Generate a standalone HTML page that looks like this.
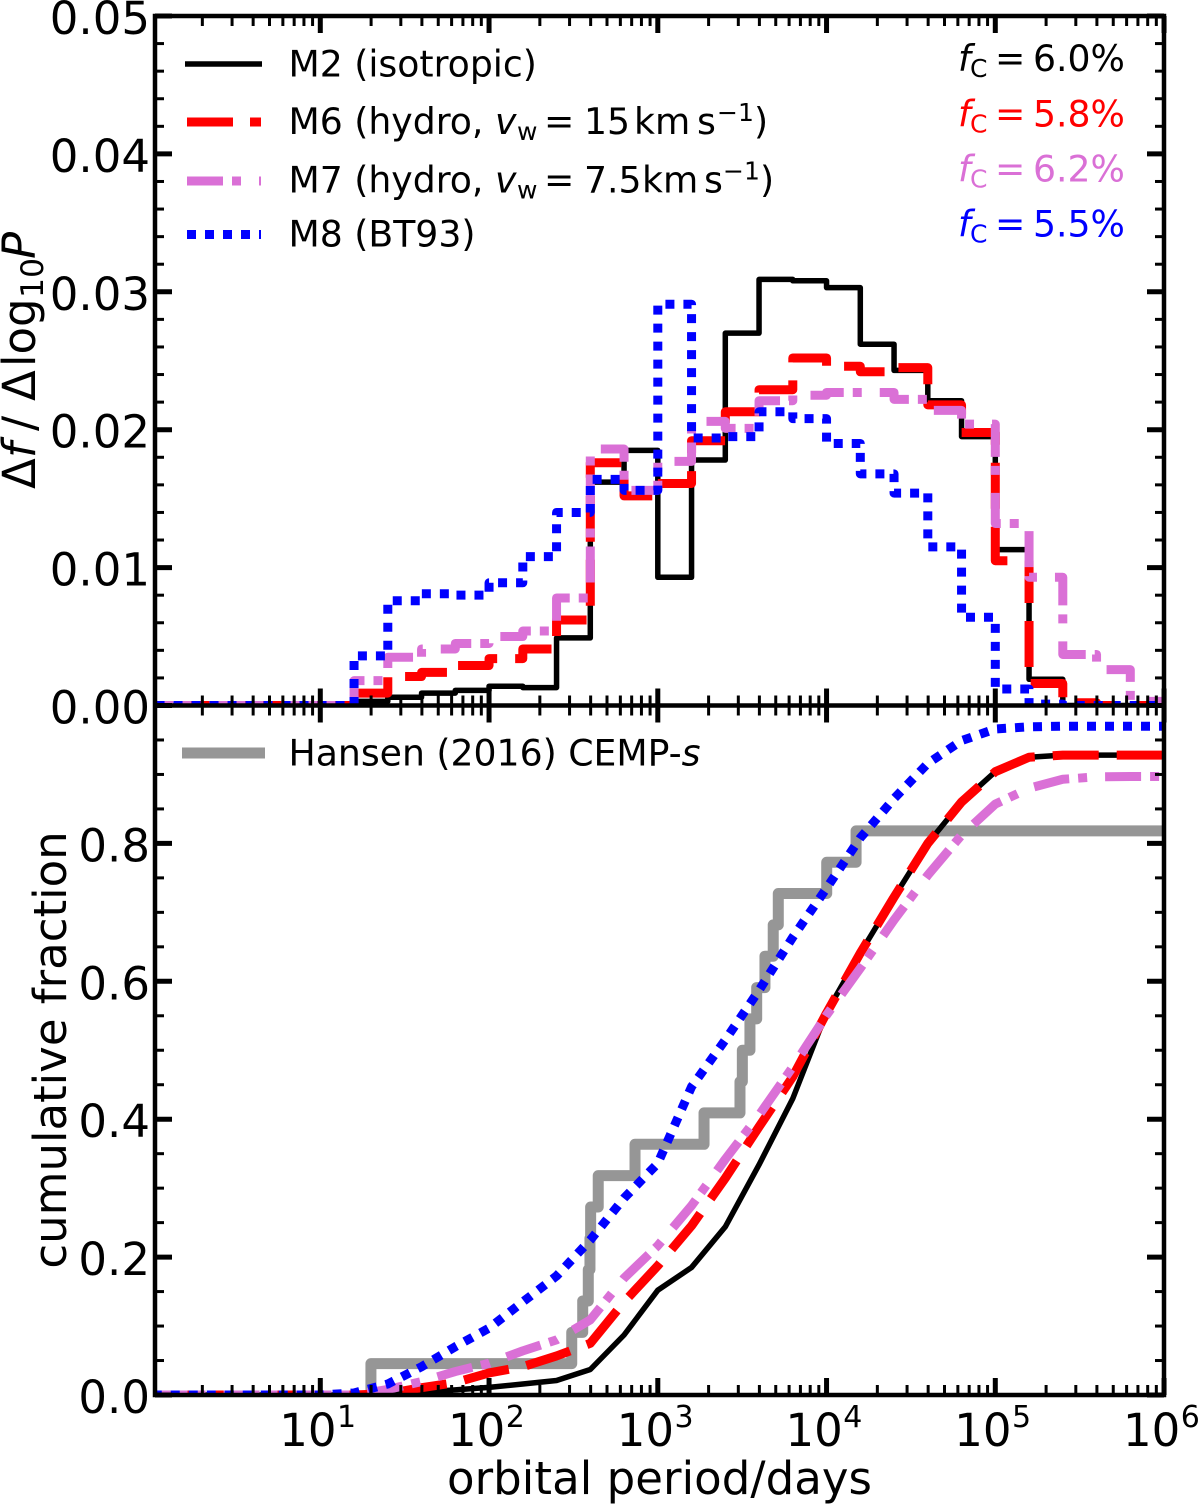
<!DOCTYPE html>
<html lang="en">
<head>
<meta charset="utf-8">
<title>Orbital period distributions</title>
<style>
html,body{margin:0;padding:0;background:#fff;}
svg{display:block;font-family:"DejaVu Sans","Liberation Sans",sans-serif;}
</style>
</head>
<body>
<svg id="chart" xmlns="http://www.w3.org/2000/svg" width="1200" height="1504" viewBox="0 0 1200 1504">
  <defs>
    <clipPath id="clip-top"><rect x="155" y="16" width="1009" height="690"/></clipPath>
    <clipPath id="clip-bottom"><rect x="155" y="706" width="1009" height="689"/></clipPath>
  </defs>
  <rect x="0" y="0" width="1200" height="1504" fill="#fff"/>
  <g id="top-series" clip-path="url(#clip-top)"></g>
  <g id="bottom-series" clip-path="url(#clip-bottom)"></g>
  <g id="axes"></g>
  <g id="tick-labels" font-size="45" fill="#000"></g>

  <text x="447" y="1494" font-size="45" textLength="425" lengthAdjust="spacing">orbital period/days</text>
  <text transform="translate(66,1050) rotate(-90)" text-anchor="middle" font-size="45">cumulative fraction</text>
  <text transform="translate(35,0) rotate(-90)" font-size="45"><tspan x="-489">Δ</tspan><tspan x="-458" font-style="italic">f</tspan><tspan x="-431">/</tspan><tspan x="-401">Δ</tspan><tspan x="-367">log</tspan><tspan x="-298" dy="8" font-size="31.5">10</tspan><tspan x="-259" dy="-8" font-style="italic">P</tspan></text>

  <g font-size="36.2">
    <g>
      <line x1="185" x2="262" y1="64" y2="64" stroke="#000" stroke-width="5.5"/>
      <text x="288.5" y="76.5">M2 (isotropic)</text>
    </g>
    <g>
      <line x1="187" x2="261" y1="122" y2="122" stroke="#f00" stroke-width="9" stroke-dasharray="46 17"/>
      <text x="288.5" y="134">M6 (hydro,<tspan x="495" font-style="italic">v</tspan><tspan x="517" dy="6" font-size="25">w</tspan><tspan x="544" dy="-6">=</tspan><tspan x="584">15</tspan><tspan x="634">km</tspan><tspan x="697">s</tspan><tspan x="717" dy="-13" font-size="25">−1</tspan><tspan x="754" dy="13">)</tspan></text>
    </g>
    <g>
      <line x1="187" x2="261" y1="181" y2="181" stroke="#da70d6" stroke-width="9" stroke-dasharray="36 9 9 18"/>
      <text x="288.5" y="192.5">M7 (hydro,<tspan x="495" font-style="italic">v</tspan><tspan x="517" dy="6" font-size="25">w</tspan><tspan x="544" dy="-6">=</tspan><tspan x="584">7.5</tspan><tspan x="642">km</tspan><tspan x="704">s</tspan><tspan x="723" dy="-13" font-size="25">−1</tspan><tspan x="760" dy="13">)</tspan></text>
    </g>
    <g>
      <line x1="187" x2="261" y1="234.5" y2="234.5" stroke="#00f" stroke-width="9" stroke-dasharray="9 9"/>
      <text x="288.5" y="246.5">M8 (BT93)</text>
    </g>
  </g>

  <g font-size="36.2">
    <text y="71" fill="#000"><tspan x="958" font-style="italic">f</tspan><tspan x="970" dy="6" font-size="25">C</tspan><tspan x="995" dy="-6">=</tspan><tspan x="1033">6.0%</tspan></text>
    <text y="126.5" fill="#f00"><tspan x="958" font-style="italic">f</tspan><tspan x="970" dy="6" font-size="25">C</tspan><tspan x="995" dy="-6">=</tspan><tspan x="1033">5.8%</tspan></text>
    <text y="181.5" fill="#da70d6"><tspan x="958" font-style="italic">f</tspan><tspan x="970" dy="6" font-size="25">C</tspan><tspan x="995" dy="-6">=</tspan><tspan x="1033">6.2%</tspan></text>
    <text y="236.5" fill="#00f"><tspan x="958" font-style="italic">f</tspan><tspan x="970" dy="6" font-size="25">C</tspan><tspan x="995" dy="-6">=</tspan><tspan x="1033">5.5%</tspan></text>
  </g>

  <g font-size="36.2">
    <line x1="182" x2="265" y1="753" y2="753" stroke="#969696" stroke-width="11"/>
    <text x="288.5" y="765.5">Hansen (2016) CEMP-<tspan font-style="italic">s</tspan></text>
  </g>
</svg>
<script>
// ---- data: log10(orbital period / days) ----
const binEdgesLogP = [0.0,0.2,0.4,0.6,0.8,1.0,1.2,1.4,1.6,1.8,2.0,2.2,2.4,2.6,2.8,3.0,3.2,3.4,3.6,3.8,4.0,4.2,4.4,4.6,4.8,5.0,5.2,5.4,5.6,5.8,6.0];

// histogram values per bin (30 bins)
const histM2 = [0,0,0,0,0,0,0.0003,0.0006,0.0009,0.0011,0.0014,0.0013,0.0049,0.0162,0.0185,0.0093,0.0178,0.0270,0.0309,0.0308,0.0303,0.0262,0.0243,0.0221,0.0195,0.0113,0.0019,0,0,0];
const histM6 = [0,0,0,0,0,0,0.0009,0.0021,0.0024,0.0029,0.0034,0.0041,0.0062,0.0176,0.0152,0.0161,0.0192,0.0213,0.0229,0.0252,0.0246,0.0242,0.0245,0.0218,0.0198,0.0105,0.0016,0.0002,0,0];
const histM7 = [0,0,0,0,0,0,0.0018,0.0035,0.0041,0.0045,0.0050,0.0054,0.0078,0.0186,0.0156,0.0177,0.0206,0.0201,0.0221,0.0225,0.0227,0.0227,0.0222,0.0214,0.0204,0.0132,0.0093,0.0037,0.0026,0.0003];
const histM8 = [0,0,0,0,0,0,0.0036,0.0076,0.0081,0.0080,0.0089,0.0108,0.0140,0.0164,0.0156,0.0291,0.0194,0.0195,0.0213,0.0208,0.0190,0.0168,0.0154,0.0115,0.0064,0.0012,0.0001,0,0,0];

// cumulative fraction at each bin edge (31 values)
const cumM2 = [0,0,0,0,0,0,0,0.001,0.004,0.0075,0.011,0.016,0.021,0.037,0.087,0.152,0.185,0.244,0.334,0.43,0.555,0.641,0.722,0.80,0.86,0.904,0.925,0.928,0.928,0.928,0.928];
const cumM6 = [0,0,0,0,0,0,0,0.002,0.0106,0.018,0.032,0.041,0.0566,0.075,0.135,0.1875,0.2455,0.3145,0.389,0.4617,0.554,0.641,0.722,0.80,0.86,0.904,0.925,0.928,0.928,0.928,0.928];
const cumM7 = [0,0,0,0,0,0,0,0.008,0.0195,0.034,0.046,0.064,0.08,0.109,0.1695,0.2166,0.2746,0.342,0.406,0.476,0.551,0.619,0.689,0.754,0.812,0.857,0.88,0.893,0.8965,0.897,0.897];
const cumM8 = [0,0,0,0,0,0,0.003,0.016,0.041,0.07,0.097,0.135,0.1726,0.2248,0.2855,0.336,0.447,0.515,0.587,0.664,0.735,0.808,0.865,0.916,0.949,0.966,0.969,0.97,0.97,0.97,0.97];

// Hansen (2016) CEMP-s observed step distribution
const hansenLogP = [1.300,2.490,2.555,2.588,2.598,2.602,2.647,2.865,3.274,3.487,3.501,3.546,3.586,3.635,3.684,3.714,4.001,4.175];
const hansenCum = [0.0455,0.0909,0.1364,0.1818,0.2273,0.2727,0.3182,0.3636,0.4091,0.4545,0.5,0.5455,0.5909,0.6364,0.6818,0.7273,0.7727,0.8182];

// tick labels
const xTickDecades = [1,2,3,4,5,6];
const xTickExponents = ["1","2","3","4","5","6"];
const topYTicks = [0,0.01,0.02,0.03,0.04,0.05];
const topYTickLabels = ["0.00","0.01","0.02","0.03","0.04","0.05"];
const bottomYTicks = [0,0.2,0.4,0.6,0.8];
const bottomYTickLabels = ["0.0","0.2","0.4","0.6","0.8"];

// ---- axis functions ----
const NS = "http://www.w3.org/2000/svg";
const LEFT = 155, RIGHT = 1164, TOP = 16, MID = 705.5, BOTTOM = 1395;
const xScale = logP => 320.3 + (logP - 1) * 168.75;
const yTop = v => MID - v * (MID - TOP) / 0.05;
const yBottom = v => BOTTOM - v * (BOTTOM - MID);

const topSeries = document.getElementById("top-series");
const bottomSeries = document.getElementById("bottom-series");
const axes = document.getElementById("axes");
const labels = document.getElementById("tick-labels");

function stepPath(edges, values, yf) {
  let d = "M" + xScale(edges[0]).toFixed(2) + " " + yf(values[0]).toFixed(2);
  for (let i = 0; i < values.length; i++) {
    d += "L" + xScale(edges[i]).toFixed(2) + " " + yf(values[i]).toFixed(2);
    d += "L" + xScale(edges[i + 1]).toFixed(2) + " " + yf(values[i]).toFixed(2);
  }
  return d;
}
function linePath(edges, values, yf) {
  return edges.map((e, i) => (i ? "L" : "M") + xScale(e).toFixed(2) + " " + yf(values[i]).toFixed(2)).join("");
}
function addPath(parent, name, d, color, width, dash, offset) {
  const p = document.createElementNS(NS, "path");
  
  
  p.setAttribute("d", d);
  p.setAttribute("fill", "none");
  p.setAttribute("stroke", color);
  p.setAttribute("stroke-width", width);
  p.setAttribute("stroke-linejoin", "round");
  p.setAttribute("stroke-linecap", "butt");
  if (dash) p.setAttribute("stroke-dasharray", dash);
  if (offset) p.setAttribute("stroke-dashoffset", offset);
  parent.appendChild(p);
}
function addTick(x1, y1, x2, y2, w, name) {
  const l = document.createElementNS(NS, "line");
  
  
  l.setAttribute("x1", x1);
  l.setAttribute("y1", y1);
  l.setAttribute("x2", x2);
  l.setAttribute("y2", y2);
  l.setAttribute("stroke", "#000");
  l.setAttribute("stroke-width", w);
  axes.appendChild(l);
}

// ---- series ----
addPath(topSeries, "hist-line-m2", stepPath(binEdgesLogP, histM2, yTop), "#000", 5.5);
addPath(topSeries, "hist-line-m6", stepPath(binEdgesLogP, histM6, yTop), "#f00", 9, "46 18", 37.5);
addPath(topSeries, "hist-line-m7", stepPath(binEdgesLogP, histM7, yTop), "#da70d6", 9, "36 9 9 18", 14.25);
addPath(topSeries, "hist-line-m8", stepPath(binEdgesLogP, histM8, yTop), "#00f", 9, "9 9", 14);

let hansenD = "M" + xScale(hansenLogP[0]).toFixed(2) + " " + yBottom(0).toFixed(2);
hansenLogP.forEach((lp, i) => {
  hansenD += "L" + xScale(lp).toFixed(2) + " " + yBottom(hansenCum[i]).toFixed(2);
  const nextX = i + 1 < hansenLogP.length ? hansenLogP[i + 1] : 6.2;
  hansenD += "L" + xScale(nextX).toFixed(2) + " " + yBottom(hansenCum[i]).toFixed(2);
});
addPath(bottomSeries, "hansen-observed-line", hansenD, "#969696", 11);
addPath(bottomSeries, "cum-line-m2", linePath(binEdgesLogP, cumM2, yBottom), "#000", 5.5);
addPath(bottomSeries, "cum-line-m6", linePath(binEdgesLogP, cumM6, yBottom), "#f00", 9, "46 18", 6.15);
addPath(bottomSeries, "cum-line-m7", linePath(binEdgesLogP, cumM7, yBottom), "#da70d6", 9, "36 9 9 18");
addPath(bottomSeries, "cum-line-m8", linePath(binEdgesLogP, cumM8, yBottom), "#00f", 9, "9 9", 16.8);

// ---- x ticks on all three horizontal spines ----
const MAJ = 17, MIN = 10;
[[TOP, 1], [MID, -1], [MID, 1], [BOTTOM, -1]].forEach(([y, dir]) => {
  for (let dec = 0; dec < 6; dec++) {
    for (let m = 2; m <= 9; m++) {
      const x = xScale(dec + Math.log10(m));
      addTick(x, y, x, y + dir * MIN, 3, "x-minor-tick");
    }
  }
  xTickDecades.forEach(d => {
    const x = xScale(d);
    addTick(x, y, x, y + dir * MAJ, 5, "x-major-tick");
  });
});

// ---- y ticks on left and right spines ----
[[LEFT, 1], [RIGHT, -1]].forEach(([x, dir]) => {
  for (let k = 0; k <= 25; k++) {
    const y = yTop(k * 0.002);
    if (k % 5 === 0) addTick(x, y, x + dir * 17, y, 5, "y-major-tick-top-panel");
    else addTick(x, y, x + dir * 9, y, 3, "y-minor-tick-top-panel");
  }
  for (let k = 0; k <= 20; k++) {
    const y = yBottom(k * 0.05);
    if (k % 4 === 0 && k < 20) addTick(x, y, x + dir * 17, y, 5, "y-major-tick-bottom-panel");
    else if (k < 20) addTick(x, y, x + dir * 9, y, 3, "y-minor-tick-bottom-panel");
  }
});

// ---- spines ----
addTick(LEFT, TOP - 2.25, LEFT, BOTTOM + 2.25, 4.5, "left-spine");
addTick(RIGHT, TOP - 2.25, RIGHT, BOTTOM + 2.25, 4.5, "right-spine");
addTick(LEFT, TOP, RIGHT, TOP, 4.5, "top-spine");
addTick(LEFT, MID, RIGHT, MID, 4.5, "middle-spine");
addTick(LEFT, BOTTOM, RIGHT, BOTTOM, 4.5, "bottom-spine");

// ---- tick labels ----
function addYLabel(txt, y, name) {
  const t = document.createElementNS(NS, "text");
  
  
  t.setAttribute("x", 150);
  t.setAttribute("y", y + 18);
  t.setAttribute("text-anchor", "end");
  t.textContent = txt;
  labels.appendChild(t);
}
topYTicks.forEach((v, i) => addYLabel(topYTickLabels[i], yTop(v), "y-tick-label-top"));
bottomYTicks.forEach((v, i) => addYLabel(bottomYTickLabels[i], yBottom(v), "y-tick-label-bottom"));

xTickDecades.forEach((d, i) => {
  const x = xScale(d) - 41;
  const t = document.createElementNS(NS, "text");
  
  
  t.setAttribute("x", x);
  t.setAttribute("y", 1446);
  t.textContent = "10";
  const s = document.createElementNS(NS, "tspan");
  s.setAttribute("x", x + 57.7);
  s.setAttribute("y", 1427);
  s.setAttribute("font-size", "30");
  s.textContent = xTickExponents[i];
  t.appendChild(s);
  labels.appendChild(t);
});
</script>
</body>
</html>
